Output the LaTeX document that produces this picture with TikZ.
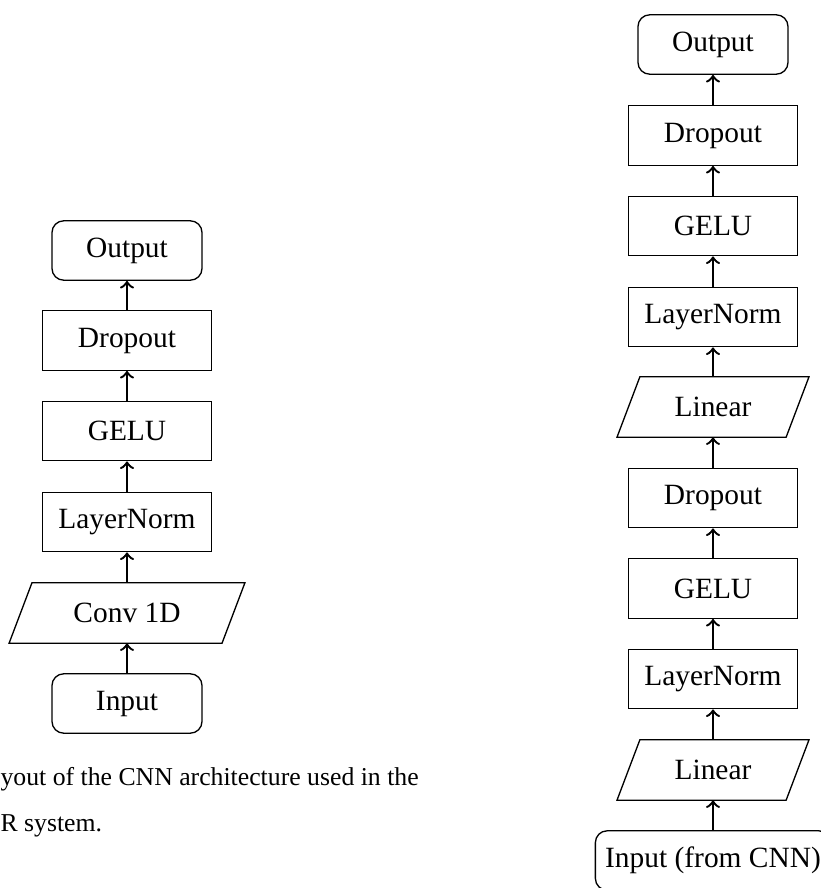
\documentclass[tikz,border=0pt]{standalone}
\usepackage{fontspec}
\setmainfont{Liberation Serif}
\begin{document}
\begin{tikzpicture}[x=0.34pt, y=-0.34pt,
  font=\fontsize{10pt}{12pt}\selectfont,
  boxline/.style={draw=black, line width=0.45pt},
  layerbox/.style={boxline, rectangle, minimum width=57.5pt, minimum height=20.2pt},
  termbox/.style={boxline, rectangle, rounded corners=4pt, minimum width=51pt, minimum height=20.2pt},
  slantbox/.style={rectangle, minimum height=20.2pt, inner sep=0pt},
  flow/.style={->, line width=0.8pt},
  captext/.style={font=\fontsize{8.75pt}{10.5pt}\selectfont, anchor=base west, inner sep=0pt}]
\useasboundingbox (0,0) rectangle (821,888);
\clip (0,0) rectangle (821,888);

% CNN block
\node[termbox] (cOut) at (127,250.5) {Output};
\node[layerbox] (cDrop) at (127,340.5) {Dropout};
\node[layerbox] (cGelu) at (127,431) {GELU};
\node[layerbox] (cNorm) at (127,522) {LayerNorm};
\node[slantbox, minimum width=72pt] (cConv) at (127,613) {Conv 1D};
\node[termbox] (cIn) at (127,703.5) {Input};

\draw[flow] (cIn) -- (cConv);
\draw[flow] (cConv) -- (cNorm);
\draw[flow] (cNorm) -- (cGelu);
\draw[flow] (cGelu) -- (cDrop);
\draw[flow] (cDrop) -- (cOut);

% caption fragment
\node[captext] (capA) at (0,785) {yout of the CNN architecture used in the};
\node[captext] (capB) at (0,831) {R system.};

% fully connected block
\node[termbox] (rOut) at (713,44.5) {Output};
\node[layerbox] (rDropB) at (713,135.5) {Dropout};
\node[layerbox] (rGeluB) at (713,226) {GELU};
\node[layerbox] (rNormB) at (713,317) {LayerNorm};
\node[slantbox, minimum width=57.1pt] (rLinB) at (713,407) {Linear};
\node[layerbox] (rDropA) at (713,498) {Dropout};
\node[layerbox] (rGeluA) at (713,588.5) {GELU};
\node[layerbox] (rNormA) at (713,679) {LayerNorm};
\node[slantbox, minimum width=57.1pt] (rLinA) at (713,770) {Linear};
\node[termbox] (rIn) at (713,860.5) {Input (from CNN)};

\draw[flow] (rIn) -- (rLinA);
\draw[flow] (rLinA) -- (rNormA);
\draw[flow] (rNormA) -- (rGeluA);
\draw[flow] (rGeluA) -- (rDropA);
\draw[flow] (rDropA) -- (rLinB);
\draw[flow] (rLinB) -- (rNormB);
\draw[flow] (rNormB) -- (rGeluB);
\draw[flow] (rGeluB) -- (rDropB);
\draw[flow] (rDropB) -- (rOut);

% parallelogram outlines of the linear layers
\foreach \n in {cConv, rLinA, rLinB}
  \draw[boxline] ([xshift=3.9pt]\n.north west) -- ([xshift=3.9pt]\n.north east)
    -- ([xshift=-3.9pt]\n.south east) -- ([xshift=-3.9pt]\n.south west) -- cycle;
\end{tikzpicture}
\end{document}
